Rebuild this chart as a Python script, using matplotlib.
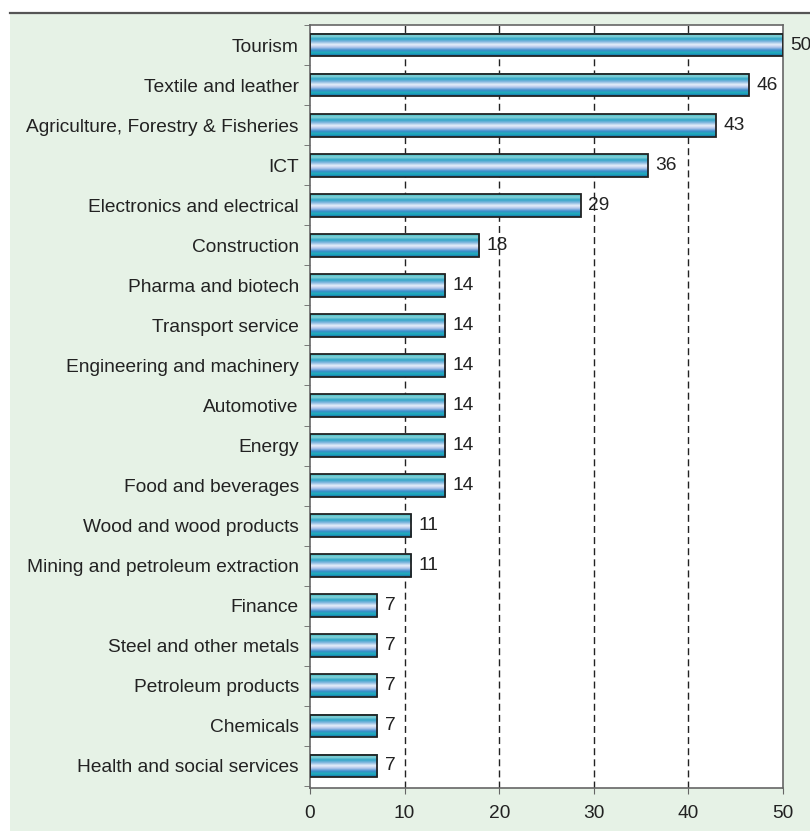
import numpy as np
import matplotlib
matplotlib.use("Agg")
import matplotlib.pyplot as plt
from matplotlib.colors import LinearSegmentedColormap
from matplotlib.patches import Rectangle
from matplotlib.lines import Line2D

# sectors, top to bottom
sectors = [
    "Tourism", "Textile and leather", "Agriculture, Forestry & Fisheries",
    "ICT", "Electronics and electrical", "Construction", "Pharma and biotech",
    "Transport service", "Engineering and machinery", "Automotive", "Energy",
    "Food and beverages", "Wood and wood products",
    "Mining and petroleum extraction", "Finance", "Steel and other metals",
    "Petroleum products", "Chemicals", "Health and social services",
]
# bar lengths (labels are rounded)
shares = [50.0, 46.4, 42.9, 35.7, 28.6, 17.9, 14.3, 14.3, 14.3, 14.3, 14.3, 14.3,
          10.7, 10.7, 7.1, 7.1, 7.1, 7.1, 7.1]
x_ticks = [0, 10, 20, 30, 40, 50]

plt.rcParams['font.family'] = ['Liberation Sans', 'DejaVu Sans']
text_col = "#222222"
fs = 13.8

# striped fill of the bars (top -> bottom)
stripes = ["#3cb8c2", "#86d2d8", "#2fa6c6", "#86b8e0", "#e8f0fa",
           "#aec4ea", "#3a8ccc", "#1eb0b8", "#1a66b4"]
cmap = LinearSegmentedColormap.from_list("stripes", stripes)
grad = np.linspace(0, 1, 64).reshape(-1, 1)

fig = plt.figure(figsize=(8.1, 8.31), dpi=100)
fig.patch.set_facecolor("white")
fig.patches.append(Rectangle((10 / 810, 0), 1, 1 - 13 / 831, transform=fig.transFigure,
                             facecolor="#e6f2e6", edgecolor="none", zorder=-10))
fig.lines.append(Line2D([10 / 810, 1], [1 - 13 / 831] * 2, transform=fig.transFigure,
                        color="#555555", lw=1.6, zorder=-5))

ax = fig.add_axes([310 / 810, 43 / 831, 473 / 810, 763 / 831])
ax.set_facecolor("white")

pos = np.arange(len(sectors))
h = 0.57
for y, v in zip(pos, shares):
    ax.imshow(grad, cmap=cmap, aspect="auto", extent=[0, v, y + h / 2, y - h / 2],
              interpolation="bilinear", zorder=2)
bars = ax.barh(pos, shares, height=h, fill=False, edgecolor="#222222", lw=1.3, zorder=3)
ax.bar_label(bars, labels=[f"{v:.0f}" for v in shares], padding=5.5, fontsize=fs,
             color=text_col, clip_on=False)

ax.set_xlim(0, 50)
ax.set_ylim(len(sectors) - 0.45, -0.5)
ax.set_xticks(x_ticks)
ax.set_yticks(pos)
ax.set_yticklabels(sectors, fontsize=fs, color=text_col)
ax.set_yticks(np.arange(len(sectors) + 1) - 0.5, minor=True)
ax.tick_params(axis="y", which="major", length=0, pad=8)
ax.tick_params(axis="y", which="minor", length=4, color="#666666", direction="out")
ax.tick_params(axis="x", length=4, color="#666666", labelsize=fs, labelcolor=text_col, pad=8)

for xv in x_ticks[1:-1]:
    ax.axvline(xv, color="#222222", lw=1, ls=(0, (5, 3)), zorder=1)

for s in ax.spines.values():
    s.set_color("#666666")
    s.set_linewidth(1.2)

fig.savefig("out.png", dpi=100)
